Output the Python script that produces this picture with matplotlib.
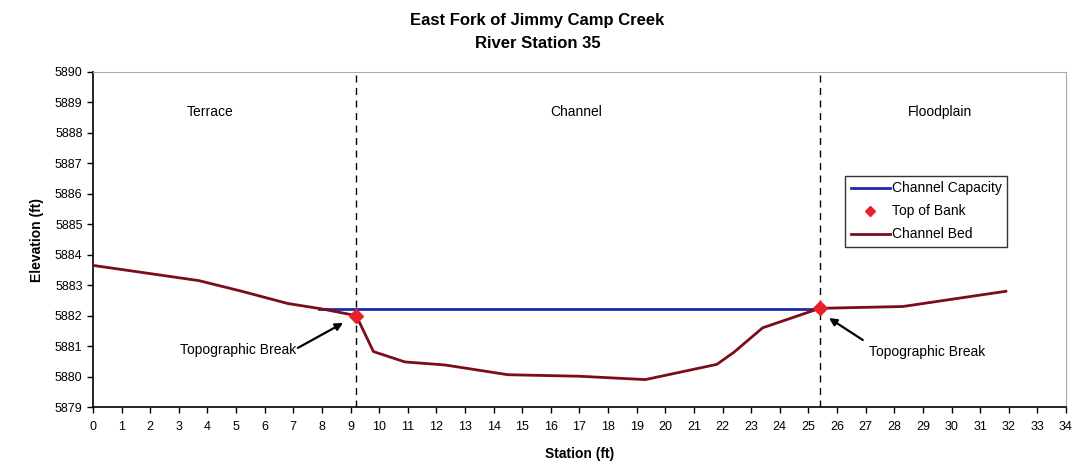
import numpy as np
import matplotlib.pyplot as plt

plt.rcParams['font.family'] = ['Liberation Sans', 'DejaVu Sans']

# channel bed survey (station ft, elevation ft)
bed_station = [0, 3.7, 5.2, 6.8, 8.0, 9.2, 9.8, 10.9, 12.3, 14.5, 17.0, 19.3, 21.8, 22.4, 23.4, 25.4, 28.3, 31.9]
bed_elev = [5883.65, 5883.15, 5882.8, 5882.4, 5882.22, 5882.0, 5880.82, 5880.48, 5880.38, 5880.06, 5880.01, 5879.9, 5880.4, 5880.8, 5881.6, 5882.24, 5882.3, 5882.8]

# channel capacity water surface
cap_station = [7.9, 25.4]
cap_elev = [5882.23, 5882.23]

# top of bank points
bank_station = [9.2, 25.4]
bank_elev = [5882.0, 5882.24]

zones = ["Terrace", "Channel", "Floodplain"]
zone_x = [4.1, 16.9, 29.6]

fig = plt.figure(figsize=(10.75, 4.66), dpi=100)
ax = fig.add_axes([0.0865, 0.1266, 0.9051, 0.7189])

ax.plot(cap_station, cap_elev, color='#1c2aa8', lw=2, label='Channel Capacity', zorder=2)
ax.plot(bank_station, bank_elev, ls='none', marker='D', ms=7, color='#e8202a', label='Top of Bank', zorder=4)
ax.plot(bed_station, bed_elev, color='#7a0c1c', lw=2, label='Channel Bed', zorder=3)

for xb in bank_station:
    ax.axvline(xb, color='black', ls=(0, (5, 4)), lw=1, zorder=1)

for name, zx in zip(zones, zone_x):
    ax.text(zx, 5888.7, name, ha='center', va='center', fontsize=10)

# topographic break labels and arrows
ax.text(5.07, 5880.87, 'Topographic Break', ha='center', va='center', fontsize=10)
ax.text(29.14, 5880.8, 'Topographic Break', ha='center', va='center', fontsize=10)
arrow = dict(arrowstyle='-|>', color='black', lw=1.6, mutation_scale=11, shrinkA=0, shrinkB=0)
ax.annotate('', xy=(8.74, 5881.76), xytext=(7.16, 5880.94), arrowprops=arrow)
ax.annotate('', xy=(25.72, 5881.92), xytext=(26.9, 5881.2), arrowprops=arrow)

ax.set_xlim(0, 34)
ax.set_ylim(5879, 5890)
ax.set_xticks(np.arange(0, 35, 1))
ax.set_yticks(np.arange(5879, 5891, 1))
ax.tick_params(direction='out', length=4, labelsize=9, width=1)
ax.tick_params(axis='x', pad=6)
ax.yaxis.get_major_formatter().set_useOffset(False)

ax.spines['top'].set_color('#aaaaaa')
ax.spines['right'].set_color('#aaaaaa')
ax.spines['bottom'].set_linewidth(1.2)
ax.spines['left'].set_linewidth(1.2)

ax.set_xlabel('Station (ft)', fontsize=10, fontweight='bold', labelpad=10)
ax.set_ylabel('Elevation (ft)', fontsize=10, fontweight='bold', labelpad=8)
fig.text(0.5, 1 - 20 / 466, 'East Fork of Jimmy Camp Creek', ha='center', va='center',
         fontsize=12, fontweight='bold')
fig.text(0.5, 1 - 44 / 466, 'River Station 35', ha='center', va='center',
         fontsize=12, fontweight='bold')

leg = ax.legend(loc='upper left', bbox_to_anchor=(0.773, 0.69), fontsize=10, frameon=True,
                fancybox=False, edgecolor='black', handlelength=2.8, handletextpad=0.15,
                borderpad=0.4, labelspacing=0.65, borderaxespad=0, markerscale=0.7)
leg.get_frame().set_linewidth(1)

fig.savefig('out.png', dpi=100)
